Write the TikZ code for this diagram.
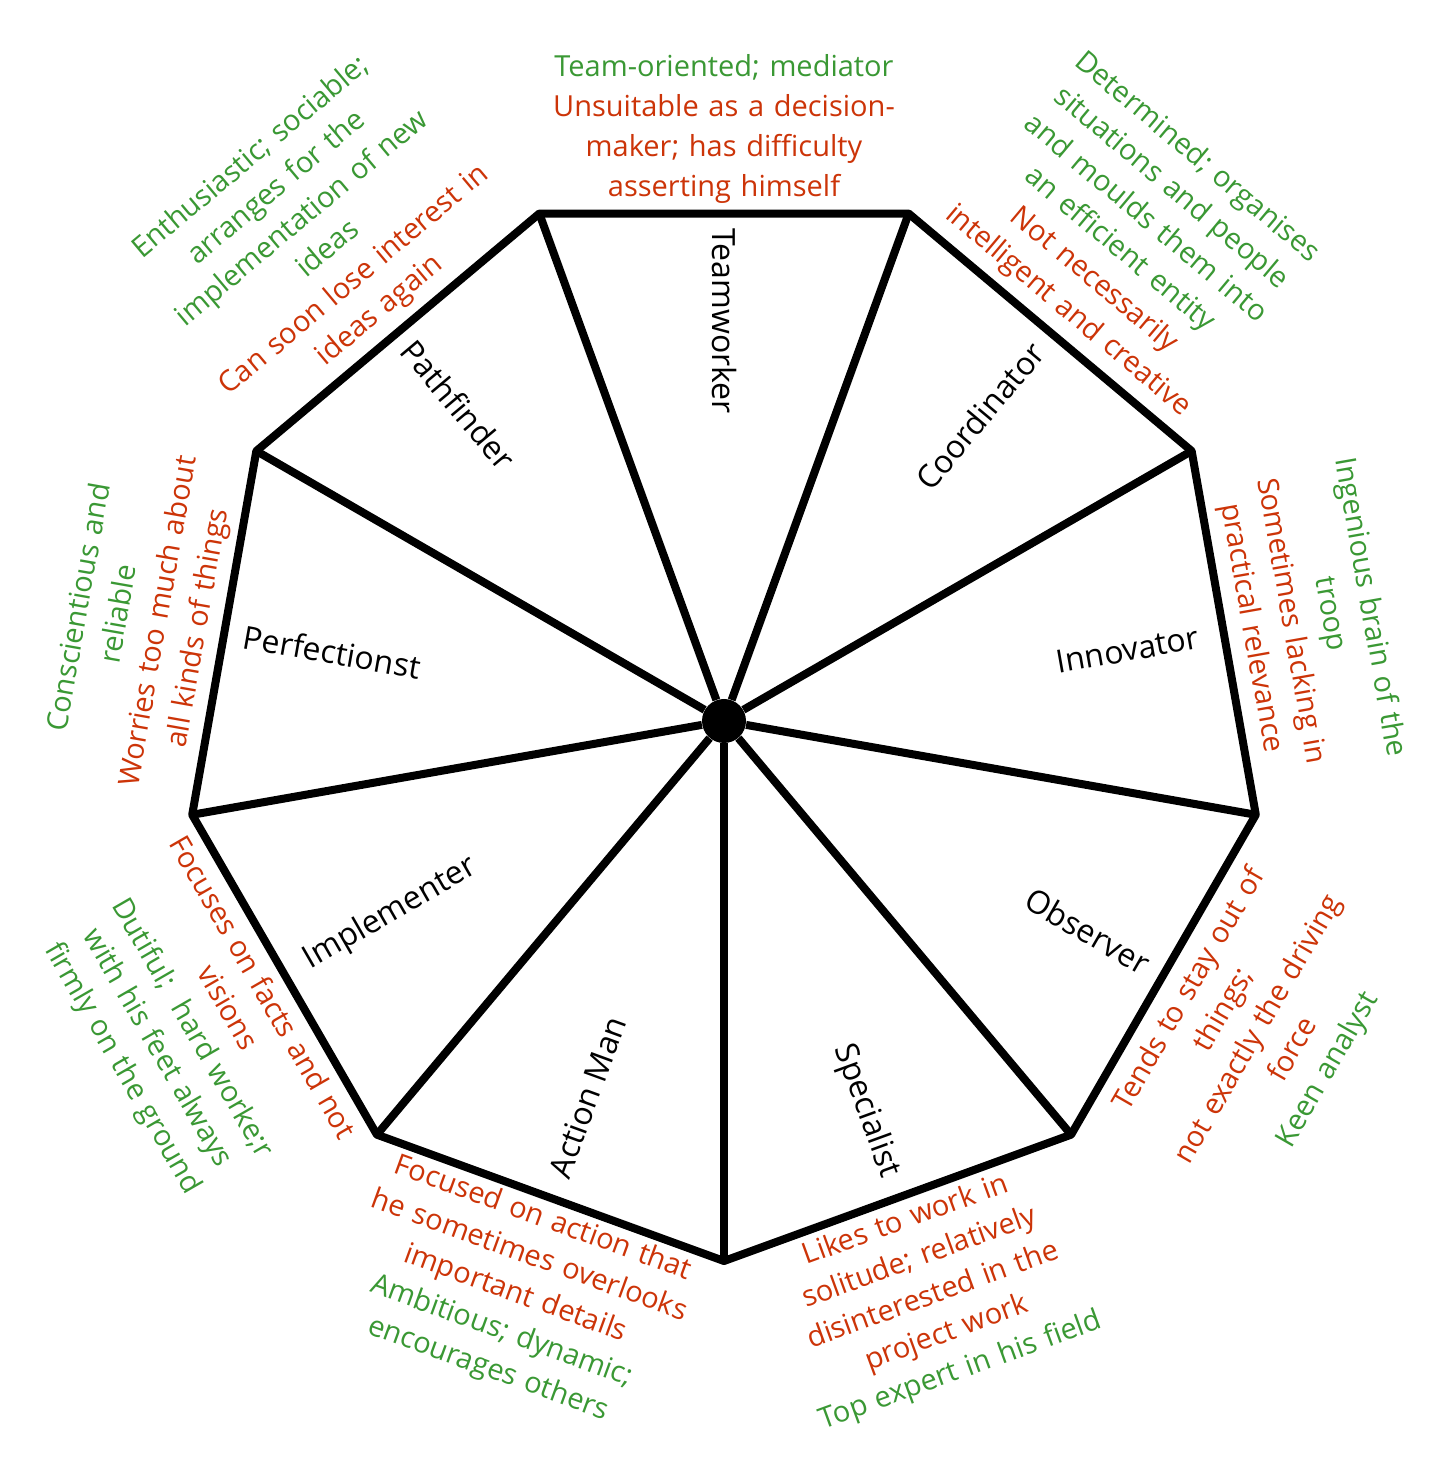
\documentclass[tikz,border=0pt]{standalone}
\usepackage{fontspec}
\setmainfont{Open Sans}
\usepackage{xcolor}
\usepackage{tikz}
\usetikzlibrary{positioning}
\definecolor{traitgreen}{RGB}{58,152,52}
\definecolor{traitred}{RGB}{204,52,8}

\begin{document}
\begin{tikzpicture}[x=0.5pt, y=0.5pt,
  role/.style={font=\fontsize{16}{19}\selectfont, inner sep=0pt},
  trait/.style={font=\fontsize{14.5}{20}\selectfont, align=center, text width=230pt, inner sep=0pt},
  rim/.style={line width=4pt, line join=round}]

\useasboundingbox (-724,-750) rectangle (726,721);

% Define nodes
\node[circle, fill=black, minimum size=22pt, inner sep=0pt] (hub) at (0,0) {};
\coordinate (V1) at (110:540);
\coordinate (V2) at (70:540);
\coordinate (V3) at (30:540);
\coordinate (V4) at (-10:540);
\coordinate (V5) at (-50:540);
\coordinate (V6) at (-90:540);
\coordinate (V7) at (-130:540);
\coordinate (V8) at (-170:540);
\coordinate (V9) at (150:540);

% Draw the wheel
\draw[rim] (V1) -- (V2) -- (V3) -- (V4) -- (V5) -- (V6) -- (V7) -- (V8) -- (V9) -- cycle;
\foreach \v in {V1,V2,V3,V4,V5,V6,V7,V8,V9}
  \draw[rim] (hub) -- (\v);

% Roles
\node[role, rotate=-90] (teamworker) at (90:400) {Teamworker};
\node[role, rotate=50] (coordinator) at (50:398) {Coordinator};
\node[role, rotate=10] (innovator) at (10:410) {Innovator};
\node[role, rotate=-30] (observer) at (-30:420) {Observer};
\node[role, rotate=-70] (specialist) at (-70:415) {Specialist};
\node[role, rotate=70] (actionman) at (250:400) {Action Man};
\node[role, rotate=30] (implementer) at (210:385) {Implementer};
\node[role, rotate=-10] (perfectionist) at (170:398) {Perfectionst};
\node[role, rotate=-50] (pathfinder) at (130:413) {Pathfinder};

% Strengths (green) and weaknesses (red)
\node[trait] (teamworkertxt) at (90:592) {\color{traitgreen}Team-oriented; mediator\\
  \color{traitred}Unsuitable as a decision-\\maker; has difficulty\\asserting himself};
\node[trait, rotate=-40] (coordinatortxt) at (50:635) {\color{traitgreen}Determined; organises\\situations and people\\and moulds them into\\an efficient entity\\
  \color{traitred}Not necessarily\\intelligent and creative};
\node[trait, rotate=-80] (innovatortxt) at (10:595) {\color{traitgreen}Ingenious brain of the\\troop\\
  \color{traitred}Sometimes lacking in\\practical relevance};
\node[trait, rotate=60] (observertxt) at (-30:618) {\color{traitred}Tends to stay out of\\things;\\not exactly the driving\\force\\
  \color{traitgreen}Keen analyst};
\node[trait, rotate=20] (specialisttxt) at (-70:612) {\color{traitred}Likes to work in\\solitude; relatively\\disinterested in the\\project work\\
  \color{traitgreen}Top expert in his field};
\node[trait, rotate=-20] (actionmantxt) at (250:610) {\color{traitred}Focused on action that\\he sometimes overlooks\\important details\\
  \color{traitgreen}Ambitious; dynamic;\\encourages others};
\node[trait, rotate=-60] (implementertxt) at (210:615) {\color{traitred}Focuses on facts and not\\visions\\
  \color{traitgreen}Dutiful;\ \ hard worke;r\\with his feet always\\firmly on the ground};
\node[trait, rotate=80] (perfectionisttxt) at (170:593) {\color{traitgreen}Conscientious and\\reliable\\
  \color{traitred}Worries too much about\\all kinds of things};
\node[trait, rotate=40] (pathfindertxt) at (130:635) {\color{traitgreen}Enthusiastic; sociable;\\arranges for the\\implementation of new\\ideas\\
  \color{traitred}Can soon lose interest in\\ideas again};

\end{tikzpicture}
\end{document}
